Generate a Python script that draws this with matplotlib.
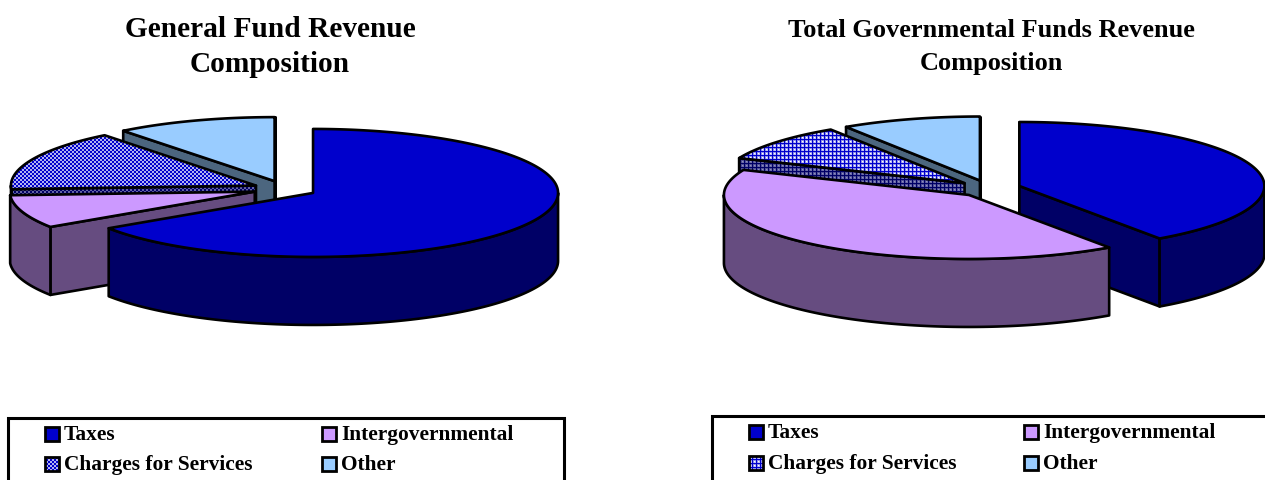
import numpy as np
import matplotlib
matplotlib.use("Agg")
import matplotlib.pyplot as plt
from matplotlib.colors import to_rgb
from matplotlib.patches import Polygon, Rectangle

plt.rcParams["font.family"] = "Liberation Serif"
plt.rcParams["font.weight"] = "bold"

categories = ["Taxes", "Intergovernmental", "Charges for Services", "Other"]
general_fund_shares = [65.7, 8.4, 15.3, 10.6]
governmental_funds_shares = [40.3, 41.1, 9.4, 9.2]

TOP_COLORS = ["#0000CC", "#CC99FF", "#FFFFFF", "#99CCFF"]
SIDE_COLORS = ["#000066", "#664C80", "#9090C0", "#4C667F"]
RX, RY, DEPTH, EXPLODE = 245.0, 64.0, 68.0, 0.13
EDGE = 1.9
W, H = 1265, 481

fig = plt.figure(figsize=(W / 100, H / 100), dpi=100)
ax = fig.add_axes([0, 0, 1, 1])


def pattern_image(kind, fg, bg):
    # Pixel-aligned fill for the Charges for Services slice.
    yy, xx = np.mgrid[0:H, 0:W]
    if kind == "checker":
        cover = 0.3 + 0.7 * ((xx // 2 + yy // 2) % 2)
    else:
        weights = np.array([1.0, 0.45, 0.0, 0.25])
        cover = np.maximum(weights[xx % 4], weights[yy % 4])
    fg, bg = np.array(to_rgb(fg)), np.array(to_rgb(bg))
    return bg + (fg - bg) * cover[..., None]


def rim(cx, cy, t):
    rad = np.radians(t)
    return np.column_stack([cx + RX * np.sin(rad), cy - RY * np.cos(rad)])


def fill(points, facecolor, image, z):
    if image is None:
        ax.add_patch(Polygon(points, closed=True, facecolor=facecolor, edgecolor="none", zorder=z))
    else:
        clip = Polygon(points, closed=True, transform=ax.transData)
        im = ax.imshow(image, extent=(0, W, H, 0), interpolation="nearest", aspect="auto", zorder=z)
        im.set_clip_path(clip)
    ax.add_patch(Polygon(points, closed=True, facecolor="none", edgecolor="black", lw=EDGE,
                         joinstyle="round", zorder=z))


def exploded_pie(shares, x0, y0, kind):
    top_image = pattern_image(kind, "#0000CC", "#FFFFFF")
    side_image = pattern_image(kind, "#000066", "#9090C0")
    angles = np.cumsum([0] + list(shares)) * 3.6
    wedges = []
    for i in range(len(shares)):
        t1, t2 = angles[i], angles[i + 1]
        mid = np.radians((t1 + t2) / 2)
        wedges.append((-np.cos(mid), i, t1, t2))
    # Painter's order: wedges nearest the back of the tilted disc come first.
    for z, (front, i, t1, t2) in enumerate(sorted(wedges)):
        mid = np.radians((t1 + t2) / 2)
        cx = x0 + EXPLODE * RX * np.sin(mid)
        cy = y0 - EXPLODE * RY * np.cos(mid)
        is_pattern = i == 2
        top_im = top_image if is_pattern else None
        side_im = side_image if is_pattern else None
        side = SIDE_COLORS[i]

        for t, visible in ((t1, np.sin(np.radians(t1)) < 1e-9), (t2, np.sin(np.radians(t2)) > -1e-9)):
            if visible:
                p = rim(cx, cy, np.array([t]))[0]
                fill([(cx, cy), p, (p[0], p[1] + DEPTH), (cx, cy + DEPTH)], side, side_im, z * 3 + 2)

        lo, hi = max(t1, 90), min(t2, 270)
        if hi > lo:
            arc = rim(cx, cy, np.linspace(lo, hi, 160))
            fill(np.vstack([arc, arc[::-1] + [0, DEPTH]]), side, side_im, z * 3 + 3)

        arc = rim(cx, cy, np.linspace(t1, t2, 240))
        fill(np.vstack([[(cx, cy)], arc]), TOP_COLORS[i], top_im, z * 3 + 4)


def legend(x0, x1, y0, col_x, row_y, kind):
    ax.add_patch(Rectangle((x0, y0), x1 - x0, 100, facecolor="white", edgecolor="black", lw=2.2, zorder=50))
    swatch_image = pattern_image(kind, "#0000CC", "#FFFFFF")
    for i, name in enumerate(categories):
        x, y = col_x[i % 2], row_y[i // 2]
        box = Rectangle((x, y - 7), 14, 14, facecolor=TOP_COLORS[i], edgecolor="none", zorder=51)
        ax.add_patch(box)
        if i == 2:
            im = ax.imshow(swatch_image, extent=(0, W, H, 0), interpolation="nearest", aspect="auto", zorder=51)
            im.set_clip_path(Rectangle((x, y - 7), 14, 14, transform=ax.transData))
        ax.add_patch(Rectangle((x, y - 7), 14, 14, facecolor="none", edgecolor="black", lw=2.0, zorder=52))
        ax.text(x + 19, y, name, fontsize=15.4, va="center", ha="left", color="black", zorder=53)


exploded_pie(general_fund_shares, 285, 190, "checker")
exploded_pie(governmental_funds_shares, 989, 189.5, "grid")

ax.text(270, 47, "General Fund Revenue\nComposition", fontsize=21.2, ha="center", va="center",
        linespacing=1.37, zorder=60)
ax.text(991, 47, "Total Governmental Funds Revenue\nComposition", fontsize=19, ha="center", va="center",
        linespacing=1.55, zorder=60)

legend(8, 564, 419, (45, 322), (435, 465), "checker")
legend(712, 1300, 417, (749, 1024), (433, 464), "grid")

ax.set_xlim(0, W)
ax.set_ylim(H, 0)
ax.axis("off")

fig.savefig("out.png", dpi=100)
